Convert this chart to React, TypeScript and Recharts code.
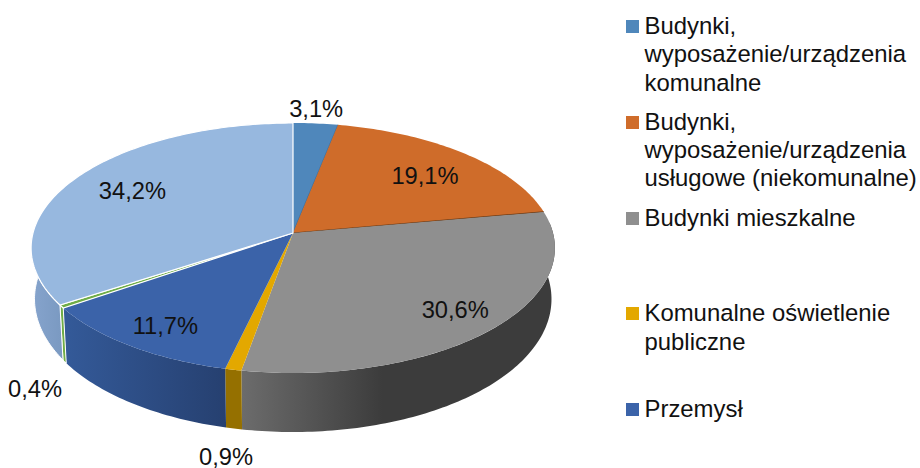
import React from 'react';
import { PieChart, Pie, Legend } from 'recharts';

const NAMES = [
  'Budynki,\nwyposażenie/urządzenia\nkomunalne',
  'Budynki,\nwyposażenie/urządzenia\nusługowe (niekomunalne)',
  'Budynki mieszkalne',
  'Komunalne oświetlenie\npubliczne',
  'Przemysł',
  'Kategoria 6',
  'Kategoria 7',
];
const VALUES = [3.1, 19.1, 30.6, 0.9, 11.7, 0.4, 34.2];
const COLORS = ['#4f87bb', '#cf6c2a', '#8f8f8f', '#e3a800', '#3b63a9', '#70ad47', '#97b8df'];
const RIM_COLORS = [
  ['#3a668e', '#3a668e'],
  ['#9b5120', '#9b5120'],
  ['#6c6c6c', '#3c3c3c'],
  ['#957000', '#957000'],
  ['#345a99', '#264070'],
  ['#70ad47', '#70ad47'],
  ['#86a4cd', '#7a99c1'],
];
const FACE_STROKES = ['none', 'none', 'none', 'none', 'none', '#ffffff', '#ffffff'];
const END_EDGES = ['#3f6d98', '#6e3c16', 'none', 'none', 'none', 'none', 'none'];
const LABEL_NUDGE = [[9, -55], [26, -8], [46, 22], [-33, 146], [-34, 28], [-123, 113], [-28, -8]];
const LEGEND_COUNT = 5;

const data = NAMES.map((name, i) => ({ name, value: VALUES[i], fill: COLORS[i] }));

// the disc is tilted, so the centre does not sit in the middle of the ellipse
const CX = 293;
const CY = 233;
const RX = 260;
const RY = 123.2;
const TILT = 0.12;
const FONT = '"Liberation Sans", Arial, sans-serif';

function project(clockDeg: number, r: number) {
  const a = (clockDeg * Math.PI) / 180;
  const u = r * Math.sin(a);
  const v = -r * Math.cos(a);
  const w = 1 - TILT * v;
  return { x: CX + (RX * u) / w, y: CY + (RY * v) / w };
}

function drop(clockDeg: number) {
  const p = project(clockDeg, 1);
  const v = -Math.cos((clockDeg * Math.PI) / 180);
  return { x: CX + (p.x - CX) * 0.987, y: p.y + 50 + 9 * v };
}

function arc(from: number, to: number) {
  const steps = Math.max(2, Math.ceil(Math.abs(to - from)));
  const out: number[] = [];
  for (let i = 0; i <= steps; i++) out.push(from + ((to - from) * i) / steps);
  return out;
}

const toPath = (pts: { x: number; y: number }[]) =>
  'M' + pts.map((p) => `${p.x.toFixed(2)} ${p.y.toFixed(2)}`).join('L') + 'Z';

function Slice3D(props: any) {
  const i = NAMES.indexOf(props.name);
  const from = 90 - props.startAngle;
  const to = 90 - props.endAngle;
  const rimFrom = Math.max(from, 85);
  const rimTo = Math.min(to, 275);
  const hasRim = rimTo > rimFrom;
  const face = [{ x: CX, y: CY }, ...arc(from, to).map((d) => project(d, 1))];
  const rimAngles = hasRim ? arc(rimFrom, rimTo) : [];
  const rim = [
    ...rimAngles.map((d) => project(d, 1)),
    ...[...rimAngles].reverse().map((d) => drop(d)),
  ];
  const gradId = `rim-${i}`;
  const edgeEnd = project(to, 1);
  return (
    <g>
      {hasRim && (
        <>
          <linearGradient id={gradId} x1="0" y1="0" x2="1" y2="0">
            <stop offset="0%" stopColor={RIM_COLORS[i][0]} />
            <stop offset={i === 2 ? '45%' : '100%'} stopColor={RIM_COLORS[i][1]} />
          </linearGradient>
          <path d={toPath(rim)} fill={`url(#${gradId})`} stroke={FACE_STROKES[i]} strokeWidth={1} />
        </>
      )}
      <path d={toPath(face)} fill={COLORS[i]} stroke={FACE_STROKES[i]} strokeWidth={1.2} />
      {END_EDGES[i] !== 'none' && (
        <line x1={CX} y1={CY} x2={edgeEnd.x} y2={edgeEnd.y} stroke={END_EDGES[i]} strokeWidth={1.2} />
      )}
    </g>
  );
}

function renderLabel(props: any) {
  const i = NAMES.indexOf(props.name);
  const p = project(90 - props.midAngle, 0.6);
  return (
    <text
      x={p.x + LABEL_NUDGE[i][0]}
      y={p.y + LABEL_NUDGE[i][1]}
      textAnchor="middle"
      dominantBaseline="central"
      fontSize={23.7}
      fontFamily={FONT}
      fill="#111111"
    >
      {VALUES[i].toFixed(1).replace('.', ',')}%
    </text>
  );
}

function renderLegend(props: any) {
  const items = (props.payload || []).slice(0, LEGEND_COUNT);
  return (
    <div style={{ fontFamily: FONT, fontSize: 23.9, lineHeight: '28.3px', color: '#111111' }}>
      {items.map((item: any) => (
        <div key={item.value} style={{ position: 'relative', height: 95.75, paddingLeft: 18.5 }}>
          <span
            style={{
              position: 'absolute',
              left: 0,
              top: 8,
              width: 13,
              height: 13,
              background: item.color,
            }}
          />
          <div style={{ whiteSpace: 'pre' }}>{item.value}</div>
        </div>
      ))}
    </div>
  );
}

export default function App() {
  return (
    <div style={{ position: 'absolute', left: 0, top: 0, width: 920, height: 468, background: '#fff' }}>
      <PieChart width={920} height={468} margin={{ top: 0, right: 0, bottom: 0, left: 0 }}>
        <Pie
          data={data}
          dataKey="value"
          nameKey="name"
          cx={CX}
          cy={CY}
          outerRadius={120}
          startAngle={90}
          endAngle={-270}
          paddingAngle={0}
          stroke="none"
          shape={Slice3D}
          label={renderLabel}
          labelLine={false}
          isAnimationActive={false}
        />
        <Legend
          content={renderLegend}
          itemSorter={null}
          wrapperStyle={{ position: 'absolute', left: 626, top: 12, width: 294, bottom: 'auto' }}
        />
      </PieChart>
    </div>
  );
}
